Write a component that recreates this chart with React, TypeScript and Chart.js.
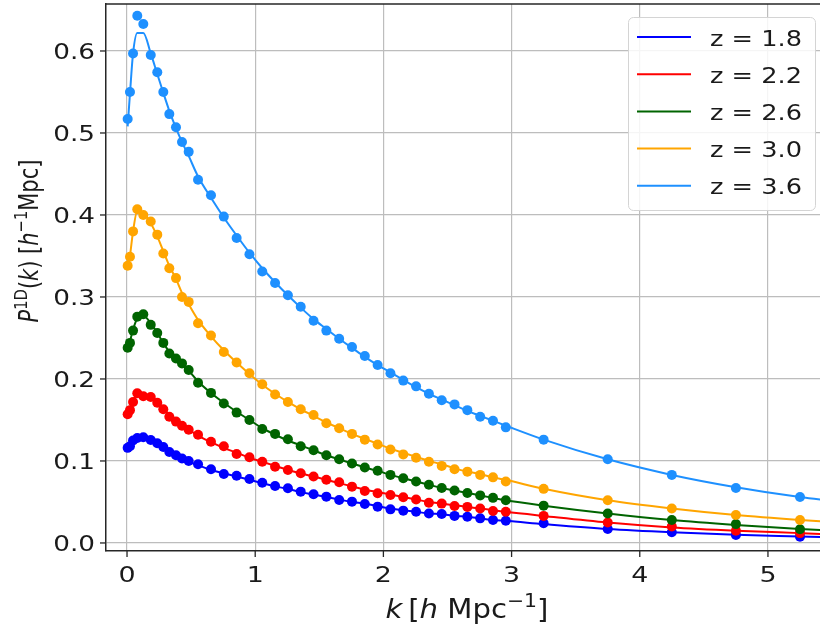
import React, { useEffect, useRef } from "react";
import { Chart, registerables } from "chart.js";

Chart.register(...registerables);

// wavenumbers k [h/Mpc]
const K = [
  0.005, 0.023, 0.047, 0.08, 0.127, 0.185, 0.236, 0.283, 0.33, 0.382, 0.429, 0.481, 0.554,
  0.655, 0.755, 0.855, 0.955, 1.055, 1.155, 1.255, 1.355, 1.455, 1.555, 1.655, 1.755, 1.855,
  1.955, 2.055, 2.155, 2.255, 2.355, 2.455, 2.555, 2.655, 2.755, 2.855, 2.955,
  3.25, 3.75, 4.25, 4.75, 5.25, 5.75,
];

// measured points
const P18 = [
  0.116, 0.118, 0.125, 0.128, 0.129, 0.1256, 0.1216, 0.117, 0.111, 0.107, 0.103, 0.1, 0.096,
  0.09, 0.084, 0.082, 0.078, 0.0735, 0.0695, 0.0667, 0.0626, 0.0594, 0.0565, 0.0524, 0.0504, 0.0476,
  0.0443, 0.041, 0.0394, 0.038, 0.036, 0.0354, 0.033, 0.032, 0.03, 0.028, 0.027,
  0.024, 0.017, 0.013, 0.0098, 0.0077, 0.006,
];
const P22 = [
  0.157, 0.162, 0.172, 0.1826, 0.179, 0.178, 0.171, 0.163, 0.154, 0.148, 0.143, 0.138, 0.132,
  0.1235, 0.118, 0.1085, 0.1045, 0.099, 0.093, 0.089, 0.085, 0.081, 0.077, 0.074, 0.0687, 0.0634,
  0.0606, 0.0585, 0.0557, 0.053, 0.049, 0.048, 0.045, 0.044, 0.042, 0.039, 0.038,
  0.033, 0.025, 0.02, 0.015, 0.012, 0.009,
];
const P26 = [
  0.238, 0.244, 0.259, 0.276, 0.279, 0.266, 0.256, 0.244, 0.231, 0.225, 0.219, 0.211, 0.1955,
  0.183, 0.17, 0.159, 0.15, 0.139, 0.133, 0.1265, 0.118, 0.113, 0.107, 0.102, 0.097, 0.092,
  0.088, 0.083, 0.079, 0.075, 0.071, 0.067, 0.064, 0.061, 0.058, 0.055, 0.052,
  0.0455, 0.036, 0.028, 0.023, 0.0167, 0.013,
];
const P30 = [
  0.338, 0.349, 0.38, 0.407, 0.4, 0.392, 0.376, 0.353, 0.335, 0.323, 0.3, 0.294, 0.268,
  0.253, 0.233, 0.22, 0.207, 0.1935, 0.181, 0.172, 0.163, 0.156, 0.146, 0.14, 0.133, 0.126,
  0.12, 0.114, 0.108, 0.104, 0.099, 0.094, 0.09, 0.087, 0.083, 0.08, 0.075,
  0.066, 0.052, 0.042, 0.034, 0.028, 0.023,
];
const P36 = [
  0.517, 0.55, 0.597, 0.643, 0.633, 0.595, 0.574, 0.55, 0.523, 0.507, 0.489, 0.477, 0.443,
  0.424, 0.398, 0.372, 0.352, 0.331, 0.317, 0.302, 0.288, 0.271, 0.259, 0.249, 0.239, 0.228,
  0.217, 0.207, 0.198, 0.191, 0.182, 0.174, 0.169, 0.162, 0.154, 0.149, 0.141,
  0.126, 0.102, 0.083, 0.067, 0.056, 0.047,
];

// model curves
const L18 = [
  0.114, 0.119, 0.125, 0.128, 0.128, 0.125, 0.121, 0.117, 0.112, 0.107, 0.103, 0.099, 0.095,
  0.089, 0.085, 0.081, 0.077, 0.073, 0.069, 0.066, 0.062, 0.059, 0.056, 0.053, 0.05, 0.048,
  0.045, 0.042, 0.04, 0.038, 0.036, 0.035, 0.033, 0.032, 0.03, 0.028, 0.027,
  0.023, 0.017, 0.013, 0.01, 0.008, 0.006,
];
const L22 = [
  0.155, 0.163, 0.173, 0.181, 0.18, 0.177, 0.171, 0.164, 0.156, 0.149, 0.143, 0.138, 0.131,
  0.123, 0.116, 0.11, 0.104, 0.099, 0.094, 0.089, 0.085, 0.081, 0.077, 0.073, 0.069, 0.065,
  0.062, 0.059, 0.056, 0.053, 0.05, 0.048, 0.046, 0.044, 0.042, 0.04, 0.038,
  0.033, 0.025, 0.019, 0.015, 0.012, 0.009,
];
const L26 = [
  0.236, 0.246, 0.26, 0.274, 0.277, 0.268, 0.256, 0.244, 0.233, 0.224, 0.217, 0.21, 0.197,
  0.183, 0.171, 0.16, 0.15, 0.14, 0.132, 0.125, 0.119, 0.113, 0.107, 0.102, 0.097, 0.092,
  0.088, 0.083, 0.079, 0.075, 0.071, 0.067, 0.064, 0.061, 0.058, 0.055, 0.052,
  0.0455, 0.036, 0.028, 0.022, 0.017, 0.013,
];
const L30 = [
  0.333, 0.35, 0.38, 0.405, 0.402, 0.39, 0.374, 0.356, 0.338, 0.322, 0.305, 0.291, 0.272,
  0.252, 0.235, 0.22, 0.206, 0.193, 0.182, 0.172, 0.163, 0.155, 0.147, 0.14, 0.133, 0.127,
  0.121, 0.115, 0.11, 0.105, 0.1, 0.096, 0.091, 0.087, 0.084, 0.08, 0.077,
  0.066, 0.052, 0.042, 0.034, 0.028, 0.023,
];
const L36 = [
  0.508, 0.548, 0.597, 0.622, 0.622, 0.597, 0.572, 0.549, 0.527, 0.506, 0.489, 0.472, 0.447,
  0.421, 0.397, 0.375, 0.354, 0.335, 0.318, 0.302, 0.287, 0.273, 0.261, 0.249, 0.238, 0.227,
  0.217, 0.208, 0.199, 0.19, 0.182, 0.175, 0.168, 0.161, 0.155, 0.149, 0.143,
  0.126, 0.102, 0.083, 0.068, 0.056, 0.047,
];

const LABELS = ["z = 1.8", "z = 2.2", "z = 2.6", "z = 3.0", "z = 3.6"];
const POINTS = [P18, P22, P26, P30, P36];
const LINES = [L18, L22, L26, L30, L36];
const COLORS = ["#0000ff", "#ff0000", "#006400", "#ffa500", "#1e90ff"];

const X_TICKS = [0, 1, 2, 3, 4, 5];
const X_TICK_LABELS = ["0", "1", "2", "3", "4", "5"];
const Y_TICKS = [0, 0.1, 0.2, 0.3, 0.4, 0.5, 0.6];
const Y_TICK_LABELS = ["0.0", "0.1", "0.2", "0.3", "0.4", "0.5", "0.6"];

const X_MIN = -0.164;
const X_MAX = 5.406;
const Y_MIN = -0.0098;
const Y_MAX = 0.6573;

const FONT = "'DejaVu Sans', sans-serif";
const SX = 1.25;

type Part = { t: string; it?: boolean; sup?: boolean };

function partFont(p: Part, fs: number) {
  const size = p.sup ? fs * 0.7 : fs;
  return `${p.it ? "italic " : ""}${size}px ${FONT}`;
}

function drawParts(
  ctx: CanvasRenderingContext2D,
  parts: Part[],
  fs: number,
  align: "left" | "center" | "right"
) {
  let total = 0;
  const ws = parts.map((p) => {
    ctx.font = partFont(p, fs);
    const w = ctx.measureText(p.t).width;
    total += w;
    return w;
  });
  let cx = align === "center" ? -total / 2 : align === "right" ? -total : 0;
  ctx.textAlign = "left";
  ctx.textBaseline = "alphabetic";
  parts.forEach((p, i) => {
    ctx.font = partFont(p, fs);
    ctx.fillText(p.t, cx, p.sup ? -fs * 0.42 : 0);
    cx += ws[i];
  });
}

function drawH(
  ctx: CanvasRenderingContext2D,
  parts: Part[],
  fs: number,
  x: number,
  y: number,
  align: "left" | "center" | "right",
  sx: number = SX
) {
  ctx.save();
  ctx.translate(x, y);
  ctx.scale(sx, 1);
  drawParts(ctx, parts, fs, align);
  ctx.restore();
}

const decorPlugin = {
  id: "decor",
  afterDatasetsDraw(chart: any) {
    const { ctx, chartArea } = chart;
    ctx.save();
    ctx.strokeStyle = "#262626";
    ctx.lineWidth = 1.5;
    ctx.beginPath();
    ctx.moveTo(chartArea.left, chartArea.top);
    ctx.lineTo(chartArea.right, chartArea.top);
    ctx.stroke();
    ctx.restore();
  },
  afterDraw(chart: any) {
    const { ctx, chartArea, scales } = chart;
    const xs = scales.x;
    const ys = scales.y;
    ctx.save();
    ctx.fillStyle = "#1a1a1a";
    ctx.strokeStyle = "#262626";
    ctx.lineWidth = 1.3;
    // tick marks + labels
    X_TICKS.forEach((v, i) => {
      const px = xs.getPixelForValue(v);
      ctx.beginPath();
      ctx.moveTo(px, chartArea.bottom);
      ctx.lineTo(px, chartArea.bottom + 6);
      ctx.stroke();
      drawH(ctx, [{ t: X_TICK_LABELS[i] }], 21.5, px, chartArea.bottom + 31, "center");
    });
    Y_TICKS.forEach((v, i) => {
      const py = ys.getPixelForValue(v);
      ctx.beginPath();
      ctx.moveTo(chartArea.left - 6, py);
      ctx.lineTo(chartArea.left, py);
      ctx.stroke();
      drawH(ctx, [{ t: Y_TICK_LABELS[i] }], 21, chartArea.left - 11, py + 8.5, "right");
    });
    // axis titles
    drawH(
      ctx,
      [
        { t: "k", it: true },
        { t: "\u2009[" },
        { t: "h", it: true },
        { t: " Mpc" },
        { t: "\u22121", sup: true },
        { t: "]" },
      ],
      26.5,
      467,
      618,
      "center",
      1.1
    );
    ctx.save();
    ctx.translate(38, 241);
    ctx.rotate(-Math.PI / 2);
    ctx.scale(1, SX);
    drawParts(
      ctx,
      [
        { t: "P", it: true },
        { t: "1D", sup: true },
        { t: "(" },
        { t: "k", it: true },
        { t: ") [" },
        { t: "h", it: true },
        { t: "\u22121", sup: true },
        { t: "Mpc]" },
      ],
      21,
      "center"
    );
    ctx.restore();

    // legend
    const bx = 628.5;
    const by = 17.5;
    const bw = 187;
    const bh = 193;
    ctx.beginPath();
    ctx.roundRect(bx, by, bw, bh, 5);
    ctx.fillStyle = "rgba(255,255,255,0.85)";
    ctx.fill();
    ctx.strokeStyle = "#d4d4d4";
    ctx.lineWidth = 1;
    ctx.stroke();
    LABELS.forEach((lab, i) => {
      const ry = 37 + i * 37.2;
      ctx.strokeStyle = COLORS[i];
      ctx.lineWidth = 2;
      ctx.beginPath();
      ctx.moveTo(637, ry);
      ctx.lineTo(691, ry);
      ctx.stroke();
      ctx.fillStyle = "#1a1a1a";
      drawH(ctx, [{ t: lab }], 20.5, 710, ry + 8.5, "left");
    });
    ctx.restore();
  },
};

export default function App() {
  const ref = useRef<HTMLCanvasElement | null>(null);
  useEffect(() => {
    if (!ref.current) return;
    const datasets: any[] = [];
    LABELS.forEach((lab, i) => {
      datasets.push({
        type: "line",
        label: lab,
        data: K.map((k, j) => ({ x: k, y: LINES[i][j] })),
        borderColor: COLORS[i],
        backgroundColor: COLORS[i],
        borderWidth: 2,
        pointRadius: 0,
        fill: false,
        cubicInterpolationMode: "monotone",
        order: 50 - 2 * i,
      });
      datasets.push({
        type: "scatter",
        label: lab + " data",
        data: K.map((k, j) => ({ x: k, y: POINTS[i][j] })),
        borderColor: COLORS[i],
        backgroundColor: COLORS[i],
        borderWidth: 0,
        pointRadius: 5,
        showLine: false,
        order: 49 - 2 * i,
      });
    });
    const chart = new Chart(ref.current, {
      type: "scatter",
      data: { datasets },
      options: {
        animation: false,
        responsive: false,
        maintainAspectRatio: false,
        devicePixelRatio: 1,
        layout: { autoPadding: false, padding: { left: 106, top: 4, right: 0, bottom: 77 } },
        plugins: { legend: { display: false }, tooltip: { enabled: false } },
        scales: {
          x: {
            type: "linear",
            min: X_MIN,
            max: X_MAX,
            afterBuildTicks: (s: any) => {
              s.ticks = X_TICKS.map((v) => ({ value: v }));
            },
            ticks: { display: false },
            grid: { color: "#bdbdbd", lineWidth: 1.2, drawTicks: false },
            border: { display: true, color: "#262626", width: 1.5 },
          },
          y: {
            type: "linear",
            min: Y_MIN,
            max: Y_MAX,
            afterBuildTicks: (s: any) => {
              s.ticks = Y_TICKS.map((v) => ({ value: v }));
            },
            ticks: { display: false },
            grid: { color: "#bdbdbd", lineWidth: 1.2, drawTicks: false },
            border: { display: true, color: "#262626", width: 1.5 },
          },
        },
      } as any,
      plugins: [decorPlugin],
    });
    return () => chart.destroy();
  }, []);
  return (
    <div style={{ position: "fixed", left: 0, top: 0, width: 820, height: 628, background: "#fff" }}>
      <canvas ref={ref} width={820} height={628} style={{ display: "block", width: 820, height: 628 }} />
    </div>
  );
}
